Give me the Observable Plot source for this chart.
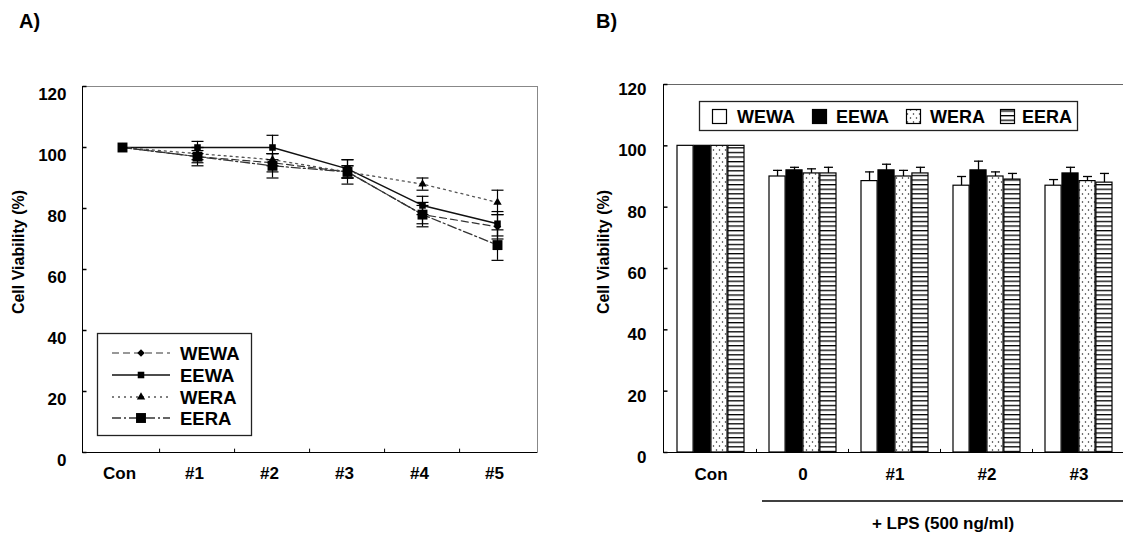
<!DOCTYPE html>
<html><head><meta charset="utf-8">
<script src="https://cdn.jsdelivr.net/npm/d3@7"></script>
<script src="https://cdn.jsdelivr.net/npm/@observablehq/plot@0.6"></script>
<style>
html,body{margin:0;padding:0;background:#fff;overflow:hidden}
#wrap{position:relative;width:1123px;height:535px;overflow:hidden;font-family:"Liberation Sans",Arial,sans-serif;font-weight:bold}
#wrap > *{position:absolute}
</style></head><body><div id="wrap"></div>
<script>
// ---------- data ----------
const seriesNames = ["WEWA", "EEWA", "WERA", "EERA"];
const yTicks = [0, 20, 40, 60, 80, 100, 120];

// Panel A
const catsA = ["Con", "#1", "#2", "#3", "#4", "#5"];
const wewaA    = [100, 97, 95, 92, 78, 74];
const wewaAErr = [0, 2, 3, 2, 3, 4];
const eewaA    = [100, 100, 100, 93, 81, 75];
const eewaAErr = [0, 2, 4, 3, 3, 4];
const weraA    = [100, 98, 96, 92, 88, 82];
const weraAErr = [0, 2, 2, 2, 2, 4];
const eeraA    = [100, 97, 94, 92, 78, 68];
const eeraAErr = [0, 3, 4, 4, 4, 5];

// Panel B
const groupsB = ["Con", "0", "#1", "#2", "#3"];
const wewaB    = [100, 90, 88.5, 87, 87];
const wewaBErr = [0, 2, 3, 3, 2];
const eewaB    = [100, 92, 92, 92, 91];
const eewaBErr = [0, 1, 2, 3, 2];
const weraB    = [100, 91, 90, 90, 88.5];
const weraBErr = [0, 1.5, 2, 1.5, 1.5];
const eeraB    = [100, 91, 91, 89, 88];
const eeraBErr = [0, 2, 2, 2, 3];

const lpsLabel = "+ LPS (500 ng/ml)";
const yTitle = "Cell Viability (%)";

// ---------- tables ----------
const valsA = [wewaA, eewaA, weraA, eeraA], errsA = [wewaAErr, eewaAErr, weraAErr, eeraAErr];
const rowsA = seriesNames.flatMap((s, i) => catsA.map((c, j) => ({series: s, cat: c, v: valsA[i][j], e: errsA[i][j]})));
const valsB = [wewaB, eewaB, weraB, eeraB], errsB = [wewaBErr, eewaBErr, weraBErr, eeraBErr];
const rowsB = seriesNames.flatMap((s, i) => groupsB.map((g, j) => ({series: s, si: i, group: g, v: valsB[i][j], e: errsB[i][j]})));

// ---------- styles ----------
const font = '"Liberation Sans", Arial, sans-serif';
const styleA = {
  WEWA: {dash: "7,4", color: "#333", width: 1.2, symbol: "diamond2", r: 3.4},
  EEWA: {dash: null, color: "#111", width: 1.5, symbol: "square", r: 3.7},
  WERA: {dash: "2,4", color: "#555", width: 1.3, symbol: "triangle", r: 3.1},
  EERA: {dash: "9,3,2,3", color: "#333", width: 1.3, symbol: "square", r: 5.6}
};
const fillsB = ["white", "black", "url(#dotpat)", "url(#stripepat)"];
const hline = w => ({draw(ctx) { ctx.moveTo(-w, 0); ctx.lineTo(w, 0); }});
const tickRight = {draw(ctx) { ctx.moveTo(0, 0); ctx.lineTo(4, 0); }};

const wrap = document.getElementById("wrap");

// patterns
const defs = d3.select(wrap).append("svg").attr("width", 0).attr("height", 0).style("left", 0).style("top", 0).append("defs");
const dp = defs.append("pattern").attr("id", "dotpat").attr("patternUnits", "userSpaceOnUse").attr("width", 6).attr("height", 8);
dp.append("rect").attr("width", 6).attr("height", 8).attr("fill", "white");
dp.append("circle").attr("cx", 1.5).attr("cy", 2).attr("r", 0.75).attr("fill", "#222");
dp.append("circle").attr("cx", 4.5).attr("cy", 6).attr("r", 0.75).attr("fill", "#222");
const sp = defs.append("pattern").attr("id", "stripepat").attr("patternUnits", "userSpaceOnUse").attr("width", 8).attr("height", 4.6);
sp.append("rect").attr("width", 8).attr("height", 4.6).attr("fill", "white");
sp.append("rect").attr("width", 8).attr("height", 1.3).attr("fill", "black");

// ---------- Panel A ----------
const A = {w: 565, h: 535, ml: 82, mr: 28, mt: 86, mb: 83};
const stepA = (A.w - A.ml - A.mr) / catsA.length;
const marksA = [
  Plot.frame({stroke: "#888"}),
  Plot.frame({anchor: "left", stroke: "black"}),
  Plot.ruleY([0], {stroke: "black"}),
  Plot.dot(yTicks, {y: d => d, frameAnchor: "left", symbol: tickRight, stroke: "black", fill: "none"}),
  Plot.ruleX(catsA.slice(1), {x: d => d, y1: 0, y2: 1.1, dx: -stepA / 2, stroke: "black"}),
  Plot.text(yTicks, {y: d => d, text: d => String(d), frameAnchor: "left", textAnchor: "end", dx: -16, dy: 8}),
  Plot.text(catsA, {x: d => d, text: d => d, frameAnchor: "bottom", lineAnchor: "top", dy: 14, dx: -3})
];
for (const s of seriesNames) {
  const st = styleA[s];
  marksA.push(Plot.line(rowsA.filter(d => d.series === s), {x: "cat", y: "v", stroke: st.color, strokeWidth: st.width, strokeDasharray: st.dash}));
}
const errRowsA = rowsA.filter(d => d.e > 0);
marksA.push(
  Plot.ruleX(errRowsA, {x: "cat", y1: d => d.v - d.e, y2: d => d.v + d.e, stroke: "black", strokeWidth: 1.2}),
  Plot.dot(errRowsA, {x: "cat", y: d => d.v + d.e, symbol: hline(6), stroke: "black", fill: "none", strokeWidth: 1.2}),
  Plot.dot(errRowsA, {x: "cat", y: d => d.v - d.e, symbol: hline(6), stroke: "black", fill: "none", strokeWidth: 1.2})
);
for (const s of seriesNames) {
  const st = styleA[s];
  marksA.push(Plot.dot(rowsA.filter(d => d.series === s), {x: "cat", y: "v", symbol: st.symbol, r: st.r, fill: "black", stroke: "none"}));
}
const plotA = Plot.plot({
  width: A.w, height: A.h, marginLeft: A.ml, marginRight: A.mr, marginTop: A.mt, marginBottom: A.mb,
  x: {type: "point", domain: catsA, padding: 0.5, axis: null},
  y: {domain: [0, 120], axis: null},
  style: {fontFamily: font, fontWeight: "bold", fontSize: "17px", background: "transparent", color: "black"},
  marks: marksA
});
plotA.style.left = "0px"; plotA.style.top = "0px";
wrap.appendChild(plotA);

// ---------- Panel B ----------
const B = {left: 565, w: 562, h: 535, ml: 98, mr: 0, mt: 84, mb: 83};
const padIn = 0.27, padOut = 0.13;
const stepB = (B.w - B.ml - B.mr) / (groupsB.length - padIn + 2 * padOut);
const bwB = stepB * (1 - padIn);
const q = bwB / 4;
const marksB = [
  Plot.frame({stroke: "#666"}),
  Plot.frame({anchor: "left", stroke: "black"}),
  Plot.dot(yTicks, {y: d => d, frameAnchor: "left", symbol: tickRight, stroke: "black", fill: "none"}),
  Plot.ruleX(groupsB.slice(1), {x: d => d, y1: 0, y2: 1.0, dx: -stepB / 2, stroke: "black"}),
  Plot.text(yTicks, {y: d => d, text: d => String(d), frameAnchor: "left", textAnchor: "end", dx: -17, dy: 5}),
  Plot.text(groupsB, {x: d => d, text: d => d, frameAnchor: "bottom", lineAnchor: "top", dy: 15})
];
seriesNames.forEach((s, i) => {
  const rows = rowsB.filter(d => d.series === s);
  const er = rows.filter(d => d.e > 0);
  const dx = (i - 1.5) * q;
  marksB.push(
    Plot.ruleX(er, {x: "group", y1: "v", y2: d => d.v + d.e, dx, stroke: "black", strokeWidth: 1.3}),
    Plot.dot(er, {x: "group", y: d => d.v + d.e, dx, symbol: hline(4.5), stroke: "black", fill: "none", strokeWidth: 1.3}),
    Plot.barY(rows, {x: "group", y: "v", fill: fillsB[i], stroke: "black", strokeWidth: 1.2, insetLeft: i * q, insetRight: (3 - i) * q})
  );
});
marksB.push(Plot.ruleY([0], {stroke: "black"}));
const plotB = Plot.plot({
  width: B.w, height: B.h, marginLeft: B.ml, marginRight: B.mr, marginTop: B.mt, marginBottom: B.mb,
  x: {type: "band", domain: groupsB, paddingInner: padIn, paddingOuter: padOut, axis: null},
  y: {domain: [0, 120], axis: null},
  style: {fontFamily: font, fontWeight: "bold", fontSize: "17px", background: "transparent", color: "black"},
  marks: marksB
});
plotB.style.left = B.left + "px"; plotB.style.top = "0px";
wrap.appendChild(plotB);

// ---------- overlay: titles, legends, annotation ----------
const ov = d3.select(wrap).append("svg").attr("width", 1123).attr("height", 535)
  .style("left", 0).style("top", 0).style("pointer-events", "none")
  .attr("font-family", font).attr("font-weight", "bold");

ov.append("text").attr("x", 19).attr("y", 28).attr("font-size", 20).text("A)");
ov.append("text").attr("x", 596).attr("y", 28).attr("font-size", 20).text("B)");
[[18, 252], [603, 252]].forEach(([x, y]) => {
  ov.append("text").attr("transform", `translate(${x},${y}) rotate(-90)`).attr("text-anchor", "middle")
    .attr("dominant-baseline", "central").attr("font-size", 16).text(yTitle);
});
ov.append("line").attr("x1", 762).attr("x2", 1123).attr("y1", 501).attr("y2", 501).attr("stroke", "black").attr("stroke-width", 1.5);
ov.append("text").attr("x", 943).attr("y", 529).attr("text-anchor", "middle").attr("font-size", 17).text(lpsLabel);

// legend A
const LA = ov.append("g");
LA.append("rect").attr("x", 97.5).attr("y", 333.5).attr("width", 154).attr("height", 102).attr("fill", "white").attr("stroke", "#222").attr("stroke-width", 1.3);
const rowY = [353, 375, 397, 418];
seriesNames.forEach((s, i) => {
  const st = styleA[s], y = rowY[i];
  LA.append("line").attr("x1", 112).attr("x2", 170).attr("y1", y).attr("y2", y)
    .attr("stroke", st.color).attr("stroke-width", st.width).attr("stroke-dasharray", st.dash);
  const sym = {diamond2: d3.symbolDiamond2, square: d3.symbolSquare, triangle: d3.symbolTriangle}[st.symbol];
  LA.append("path").attr("transform", `translate(141,${y})`).attr("d", d3.symbol(sym, st.r * st.r * Math.PI)()).attr("fill", "black");
  LA.append("text").attr("x", 180).attr("y", y + 6.5).attr("font-size", 18.5).text(s);
});

// legend B
const LB = ov.append("g");
LB.append("rect").attr("x", 699.5).attr("y", 101.5).attr("width", 378).attr("height", 29).attr("fill", "white").attr("stroke", "#222").attr("stroke-width", 1.3);
const sqX = [712, 812, 906, 1000], txX = [737, 836, 930, 1022];
seriesNames.forEach((s, i) => {
  LB.append("rect").attr("x", sqX[i] + 0.5).attr("y", 109.5).attr("width", 14).attr("height", 14)
    .attr("fill", fillsB[i]).attr("stroke", "black").attr("stroke-width", 1.2);
  LB.append("text").attr("x", txX[i]).attr("y", 122.5).attr("font-size", 18).text(s);
});
</script></body></html>
